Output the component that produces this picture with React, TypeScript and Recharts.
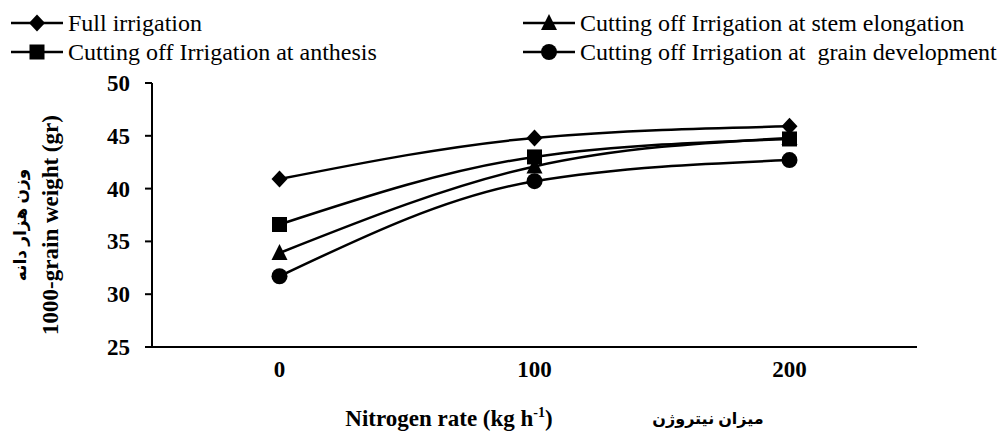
import React from 'react';
import { LineChart, Line, XAxis, YAxis } from 'recharts';

const nitrogen = [0, 100, 200];
const fullIrrigation = [40.9, 44.8, 45.9];
const cutAnthesis = [36.6, 43.0, 44.7];
const cutStem = [33.9, 42.1, 44.8];
const cutGrain = [31.7, 40.7, 42.7];
const yTicks = [25, 30, 35, 40, 45, 50];

const SERIES = [
  { key: 'full', name: 'Full irrigation', shape: 'diamond', values: fullIrrigation },
  { key: 'stem', name: 'Cutting off Irrigation at stem elongation', shape: 'triangle', values: cutStem },
  { key: 'anthesis', name: 'Cutting off Irrigation at anthesis', shape: 'square', values: cutAnthesis },
  { key: 'grain', name: 'Cutting off Irrigation at  grain development', shape: 'circle', values: cutGrain },
];

const data = nitrogen.map((n, i) => {
  const row: any = { n };
  SERIES.forEach((s) => { row[s.key] = s.values[i]; });
  return row;
});

const FONT = '"Liberation Serif", "DejaVu Sans", serif';

const Marker = ({ shape, cx, cy }: { shape: string; cx: number; cy: number }) => {
  switch (shape) {
    case 'diamond':
      return <path d={`M${cx},${cy - 8.5}L${cx + 8},${cy}L${cx},${cy + 8.5}L${cx - 8},${cy}Z`} fill="#000" />;
    case 'square':
      return <rect x={cx - 7.5} y={cy - 7.5} width={15} height={15} fill="#000" />;
    case 'triangle':
      return <path d={`M${cx},${cy - 9}L${cx + 8},${cy + 7}L${cx - 8},${cy + 7}Z`} fill="#000" />;
    default:
      return <circle cx={cx} cy={cy} r={8} fill="#000" />;
  }
};

const LegendItem = ({ shape, name, x, y }: { shape: string; name: string; x: number; y: number }) => (
  <div style={{ position: 'absolute', left: x, top: y - 14, height: 28, display: 'flex', alignItems: 'center' }}>
    <svg width={54} height={28}>
      <line x1={1} y1={14} x2={53} y2={14} stroke="#000" strokeWidth={2.5} />
      <Marker shape={shape} cx={27} cy={14} />
    </svg>
    <span style={{ fontFamily: FONT, fontSize: 24, marginLeft: 4, whiteSpace: 'pre', color: '#000' }}>{name}</span>
  </div>
);

const tickText = { fontFamily: FONT, fontSize: 23, fontWeight: 700, fill: '#000' };

const XTick = (p: any) => (
  <text x={p.x} y={p.y} dy={8} textAnchor="middle" style={tickText}>{p.payload.value}</text>
);

const YTick = (p: any) => (
  <text x={p.x} y={p.y} dy={8} textAnchor="end" style={tickText}>{p.payload.value}</text>
);

export default function App() {
  return (
    <div style={{ position: 'absolute', left: 0, top: 0, width: 1000, height: 432, background: '#fff', overflow: 'hidden' }}>
      <LineChart width={1000} height={432} data={data} margin={{ top: 83, right: 83, bottom: 55, left: 0 }}>
        <XAxis
          dataKey="n"
          type="number"
          domain={[-50, 250]}
          ticks={nitrogen}
          height={30}
          tickLine={false}
          tickSize={0}
          tickMargin={22}
          axisLine={{ stroke: '#000', strokeWidth: 2 }}
          tick={<XTick />}
        />
        <YAxis
          domain={[25, 50]}
          ticks={yTicks}
          width={152}
          tickSize={7}
          tickMargin={15}
          tickLine={{ stroke: '#000', strokeWidth: 2 }}
          axisLine={{ stroke: '#000', strokeWidth: 2 }}
          tick={<YTick />}
        />
        {SERIES.map((s) => (
          <Line
            key={s.key}
            dataKey={s.key}
            name={s.name}
            type="monotone"
            stroke="#000"
            strokeWidth={2.5}
            isAnimationActive={false}
            dot={(p: any) => <Marker key={`${s.key}-${p.index}`} shape={s.shape} cx={p.cx} cy={p.cy} />}
            activeDot={false}
          />
        ))}
      </LineChart>

      <LegendItem shape="diamond" name={SERIES[0].name} x={10} y={23} />
      <LegendItem shape="square" name={SERIES[2].name} x={10} y={52} />
      <LegendItem shape="triangle" name={SERIES[1].name} x={522} y={23} />
      <LegendItem shape="circle" name={SERIES[3].name} x={522} y={52} />

      <div
        style={{
          position: 'absolute', left: 36, top: 225, width: 300, transform: 'translate(-50%, -50%) rotate(-90deg)',
          textAlign: 'center', fontFamily: FONT, fontWeight: 'bold', color: '#000', lineHeight: '30px',
        }}
      >
        <div style={{ fontSize: 17 }}>وزن هزار دانه</div>
        <div style={{ fontSize: 23 }}>1000-grain weight (gr)</div>
      </div>

      <div
        style={{
          position: 'absolute', left: 449, top: 407, transform: 'translateX(-50%)', whiteSpace: 'nowrap',
          fontFamily: FONT, fontWeight: 'bold', fontSize: 23, lineHeight: '23px', color: '#000',
        }}
      >
        Nitrogen rate (kg h<span style={{ fontSize: 14, position: 'relative', top: -9 }}>-1</span>)
      </div>
      <div
        style={{
          position: 'absolute', left: 708, top: 409, transform: 'translateX(-50%)', whiteSpace: 'nowrap',
          fontFamily: FONT, fontWeight: 'bold', fontSize: 16, lineHeight: '20px', color: '#000', direction: 'rtl',
        }}
      >
        میزان نیتروژن
      </div>
    </div>
  );
}
